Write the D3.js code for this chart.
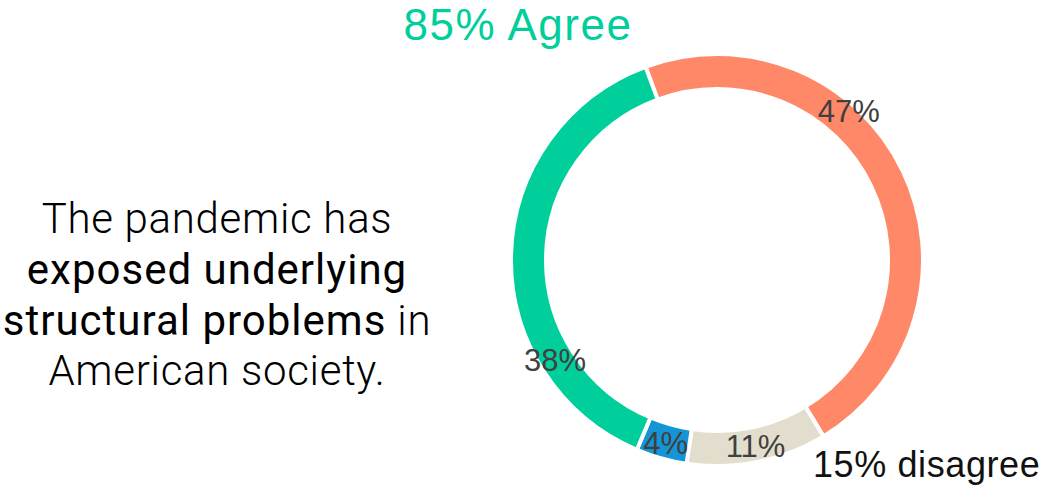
<!DOCTYPE html>
<html>
<head>
<meta charset="utf-8">
<script src="https://cdn.jsdelivr.net/npm/d3@7"></script>
<style>
  html, body { margin: 0; padding: 0; background: #fff; }
  svg { display: block; }
</style>
</head>
<body>
<svg id="chart" width="1045" height="489"></svg>
<script>
// Survey responses, in drawing order clockwise from just left of 12 o'clock
const categories = ["Strongly agree", "Somewhat disagree", "Strongly disagree", "Somewhat agree"];
const values = [47, 11, 4, 38];
const valueLabels = ["47%", "11%", "4%", "38%"];
const colors = ["#FF8868", "#E2DDCC", "#1595D6", "#00CF9C"];

// Headline totals
const agreeLabel = "85% Agree";
const disagreeLabel = "15% disagree";

// Statement text: each line is a list of [text, emphasised?] runs
const statementLines = [
  [["The pandemic has", false]],
  [["exposed underlying", true]],
  [["structural problems", true], [" in", false]],
  [["American society.", false]]
];

// Where along each slice (0 = start, 1 = end) its percentage sits
const labelAlong = [0.365, 0.49, 0.5, 0.26];

const svg = d3.select("#chart");
const cx = 717, cy = 260;
const outerR = 206, innerR = 171;
const startDeg = -20.3;
const start = startDeg * Math.PI / 180;

const pie = d3.pie()
  .sort(null)
  .value(d => d)
  .startAngle(start)
  .endAngle(start + 2 * Math.PI);

const arcs = pie(values);
const arc = d3.arc().innerRadius(innerR).outerRadius(outerR);

const g = svg.append("g").attr("transform", `translate(${cx},${cy})`);

g.selectAll("path.slice")
  .data(arcs)
  .join("path")
  .attr("class", "slice")
  .attr("d", arc)
  .attr("fill", (d, i) => colors[i])
  .attr("stroke", "#fff")
  .attr("stroke-width", 4)
  .attr("stroke-linejoin", "miter");

const labelR = 190;
g.selectAll("text.pct")
  .data(arcs)
  .join("text")
  .attr("class", "pct")
  .attr("transform", (d, i) => {
    const a = d.startAngle + (d.endAngle - d.startAngle) * labelAlong[i];
    const r = i === 0 ? 199 : labelR;
    return `translate(${r * Math.sin(a)},${-r * Math.cos(a)})`;
  })
  .attr("text-anchor", "middle")
  .attr("dy", "0.36em")
  .attr("font-family", "'Liberation Sans', Arial, sans-serif")
  .attr("font-size", 31)
  .attr("fill", "#404040")
  .text((d, i) => valueLabels[i]);

// Headline above the ring
svg.append("text")
  .attr("x", 518)
  .attr("y", 40)
  .attr("text-anchor", "middle")
  .attr("font-family", "'Liberation Sans', Arial, sans-serif")
  .attr("font-size", 44)
  .attr("letter-spacing", 1.5)
  .attr("fill", "#00CF9C")
  .text(agreeLabel);

// Disagree total, bottom right
svg.append("text")
  .attr("x", 813)
  .attr("y", 477)
  .attr("text-anchor", "start")
  .attr("font-family", "'Liberation Sans', Arial, sans-serif")
  .attr("font-size", 36)
  .attr("letter-spacing", 0.6)
  .attr("fill", "#111")
  .text(disagreeLabel);

// Statement on the left
const stmt = svg.append("text")
  .attr("text-anchor", "middle")
  .attr("font-size", 42)
  .attr("fill", "#000");

const baselines = [233, 284, 335, 385];
statementLines.forEach((runs, li) => {
  const line = stmt.append("tspan").attr("x", 217).attr("y", baselines[li]);
  runs.forEach(([t, strong]) => {
    line.append("tspan")
      .attr("font-family", "Roboto, 'Liberation Sans', sans-serif")
      .attr("font-weight", strong ? 400 : 300)
      .attr("letter-spacing", strong ? 1.0 : 0.7)
      .text(t);
  });
});
</script>
</body>
</html>
